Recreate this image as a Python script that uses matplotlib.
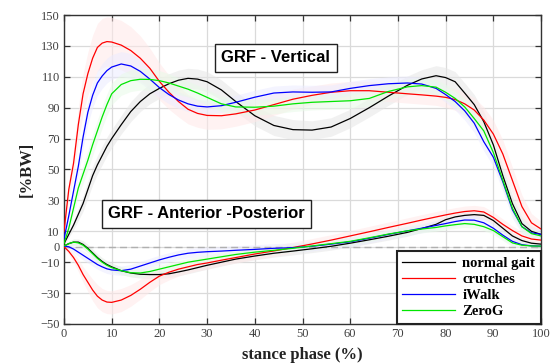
import matplotlib
matplotlib.use("Agg")
import matplotlib.pyplot as plt
import numpy as np

# ---------------- data ----------------
stance = [0, 1, 2, 3, 4, 5, 6, 7, 8, 9, 10, 12, 14, 16, 18, 20, 22, 24, 26, 28, 30,
          33, 36, 40, 44, 48, 52, 56, 60, 64, 68, 72, 75, 78, 80, 82, 84, 86, 88, 90,
          92, 94, 96, 98, 100]

labels = ["normal gait", "crutches", "iWalk", "ZeroG"]

# Vertical GRF (%BW)
vert_normal = [2, 8, 14, 21, 28, 37, 46, 53, 59, 65, 70, 79, 87.5, 94, 99, 102.5, 105.5, 107.8, 109, 108.5, 106.8,
               101.5, 94, 84.8, 78.5, 75.8, 75.5, 77.5, 83, 90, 97.5, 104.5, 108.6, 110.7, 109.5, 106.8, 99.5, 92, 81, 66,
               46, 28, 15, 10, 8]
vert_crutches = [10, 37, 54, 79, 99, 112, 122, 129, 131.8, 132.8, 132.5, 130.5, 127, 122, 115.5, 107, 100, 94, 89, 86.3, 85,
                 84.8, 86, 88.5, 92, 95.5, 98, 100, 101, 101, 100, 99, 98.3, 97.5, 96.7, 95.3, 92.5, 88.5, 82, 73,
                 60, 43, 26, 15.5, 11.5]
vert_iwalk = [5, 20, 36, 52, 71, 87, 98, 106, 110.5, 114, 116.3, 118.3, 117, 113.5, 108.5, 103, 98.5, 95, 92.5, 91, 90.5,
              91.3, 93.5, 96.8, 99.5, 100.2, 100, 100.2, 102.5, 104.3, 105.5, 106, 105.3, 102.5, 98.5, 94, 88, 80, 68, 58,
              42, 24, 13, 9, 8]
vert_zerog = [2, 12, 25, 38, 47, 56, 66, 75, 84, 92, 99, 105, 107.5, 108.4, 108.3, 107.5, 106, 104, 102, 99.5, 96.7,
              92.5, 90.5, 90.3, 91, 92.5, 93.5, 94, 94.5, 96, 100.5, 103.5, 104.3, 103.3, 100, 96, 90.5, 83, 75, 61,
              43, 25, 13, 8.5, 7]

# Anterior-posterior GRF (%BW)
ap_normal = [0.5, 2, 3, 3, 1.5, -1, -4, -7, -9.5, -11.5, -13, -15.5, -17, -17.8, -18, -18, -17.5, -16.3, -15, -13.5, -12,
             -10, -8, -6, -4.2, -2.8, -1.3, 0.3, 2.3, 4.5, 6.8, 9.3, 11.8, 14.5, 17.5, 19.3, 20.3, 20.8, 20.3, 17,
             12, 7, 4, 2.3, 1.7]
ap_crutches = [0, -3, -7, -12, -18, -23, -28, -32, -34.5, -35.8, -36, -34.5, -31.5, -27.5, -23, -19, -16.5, -14.5, -13, -11.5, -10.5,
               -8.7, -7, -4.7, -2.7, -0.5, 1.8, 4.3, 7, 9.7, 12.5, 15.2, 17.3, 19.3, 20.6, 21.8, 22.8, 23.3, 22.5, 19,
               14.5, 10.5, 7, 5, 4.3]
ap_iwalk = [0.5, 0, -1.5, -3.5, -5.5, -7.5, -9.5, -11.5, -13, -14.3, -15, -15.5, -14.5, -12.5, -10.5, -8.5, -6.8, -5.3, -4.2, -3.6, -3.2,
            -2.8, -2.3, -1.7, -1, -0.6, 0.3, 1.7, 3.2, 5.5, 8, 10.3, 12, 13.8, 15, 16.3, 17.3, 17.2, 15.5, 12,
            7.5, 3.5, 1.3, 0.6, 0.4]
ap_zerog = [0.5, 2, 3, 2.5, 1, -1.5, -4.5, -7.5, -10, -12, -13.5, -15.5, -16.8, -17, -16, -14.5, -13, -11.5, -10, -9, -8,
            -6.5, -5, -3.5, -2.3, -1, 0.5, 2, 3.5, 5.8, 8.2, 10.3, 11.5, 12.5, 13.5, 14.3, 15, 14.5, 13, 10.5,
            6.5, 2.5, 1, 0.5, 0.4]

# standard deviation bands (%BW)
sd_vert_normal = [1, 2, 3, 4, 5, 5.5, 6, 6, 6, 6, 6, 6, 6.5, 6.5, 6.5, 6.5, 6.5, 6.5, 6.5, 6.5, 6.5,
                  6.5, 6.5, 6.5, 6.5, 6.5, 6, 6, 6, 6, 6, 6, 6, 6.5, 6.5, 6.5, 6.5, 6.5, 6.5, 6,
                  6, 5.5, 4.5, 3.5, 3]
sd_vert_crutches = [2, 6, 9, 11, 13, 14, 15, 15.5, 16, 16, 16, 16, 15.5, 14.5, 13, 12, 11, 10, 9.5, 9, 9,
                    8.5, 8, 7.5, 7, 6.5, 6, 6, 6, 6, 6, 6, 6, 6, 6.5, 7, 7.5, 8, 8.5, 9,
                    9, 8.5, 7.5, 6, 5]
sd_vert_iwalk = [1, 3, 5, 6, 7, 7.5, 8, 8, 8, 8, 8, 8, 8, 7.5, 7, 6.5, 6, 5.5, 5, 4.5, 4.5,
                 4.5, 4.5, 4.5, 4.5, 4.5, 4.5, 4.5, 4.5, 4.5, 4.5, 4.5, 4.5, 4.5, 5, 5.5, 6, 6, 6, 6,
                 6, 5.5, 4.5, 3.5, 3]
sd_vert_zerog = [1, 2, 4, 5, 6, 6.5, 7, 7, 7, 7, 7, 7, 7, 7, 7, 6.5, 6, 5.5, 5, 5, 5,
                 5, 5, 5, 5, 5, 5, 5, 5, 5, 5, 5, 5, 5, 5, 5.5, 5.5, 5.5, 5.5, 5.5,
                 5.5, 5, 4, 3, 2.5]
sd_ap_normal = [1, 1.5, 2, 2, 2.5, 2.5, 2.5, 2.5, 2.5, 2.5, 2.5, 2.5, 2.5, 2.5, 2.5, 2.5, 2.5, 2.5, 2.5, 2.5, 2.5,
                2.5, 2.5, 2.5, 2.5, 2.5, 2.5, 2.5, 2.5, 2.5, 2.5, 2.5, 2.5, 2.5, 2.5, 2.5, 2.5, 2.5, 2.5, 2.5,
                2.5, 2.5, 2, 1.5, 1.5]
sd_ap_crutches = [1, 2, 3, 4, 5, 6, 7, 7.5, 7.5, 7.5, 7.5, 7.5, 7, 6.5, 6, 5.5, 5, 4.5, 4, 4, 4,
                  3.5, 3.5, 3.5, 3.5, 3.5, 3.5, 3.5, 3.5, 3.5, 3.5, 3.5, 3.5, 3.5, 3.5, 3.5, 3.5, 3.5, 3.5, 3.5,
                  3.5, 3, 3, 2.5, 2]
sd_ap_iwalk = [1, 1.5, 2, 2.5, 3, 3, 3, 3, 3, 3, 3, 3, 3, 3, 3, 3, 3, 3, 3, 3, 3,
               3, 3, 3, 3, 3, 3, 3, 3, 3, 3, 3, 3, 3, 3, 3, 3, 3, 3, 3,
               3, 2.5, 2, 1.5, 1.5]
sd_ap_zerog = [1, 1.5, 2, 2, 2.5, 2.5, 2.5, 2.5, 2.5, 2.5, 2.5, 2.5, 2.5, 2.5, 2.5, 2.5, 2.5, 2.5, 2.5, 2.5, 2.5,
               2.5, 2.5, 2.5, 2.5, 2.5, 2.5, 2.5, 2.5, 2.5, 2.5, 2.5, 2.5, 2.5, 2.5, 2.5, 2.5, 2.5, 2.5, 2.5,
               2.5, 2.5, 2, 1.5, 1.5]

yticks = [-50, -30, -10, 0, 10, 30, 50, 70, 90, 110, 130, 150]
xticks = [0, 10, 20, 30, 40, 50, 60, 70, 80, 90, 100]

# ---------------- plotting ----------------
colors = ["#000000", "#ff0000", "#0000ff", "#00e600"]
band_colors = ["#e6e6e6", "#ffe8e8", "#ebebff", "#e8fae8"]

vert = [vert_normal, vert_crutches, vert_iwalk, vert_zerog]
ap = [ap_normal, ap_crutches, ap_iwalk, ap_zerog]
sd_vert = [sd_vert_normal, sd_vert_crutches, sd_vert_iwalk, sd_vert_zerog]
sd_ap = [sd_ap_normal, sd_ap_crutches, sd_ap_iwalk, sd_ap_zerog]

fig = plt.figure(figsize=(5.55, 3.64), dpi=100)
ax = fig.add_axes([64 / 555, 1 - 324 / 364, (541 - 64) / 555, (324 - 15) / 364])

x = np.array(stance)
for i in range(4):
    m = np.array(vert[i]); s = np.array(sd_vert[i])
    ax.fill_between(x, m - s, m + s, color=band_colors[i], alpha=0.55, lw=0, zorder=1)
    m = np.array(ap[i]); s = np.array(sd_ap[i])
    ax.fill_between(x, m - s, m + s, color=band_colors[i], alpha=0.55, lw=0, zorder=1)

ax.axhline(0, color="#b0b0b0", ls=(0, (5, 3)), lw=1.0, zorder=2)

handles = []
for i in range(4):
    h, = ax.plot(x, vert[i], color=colors[i], lw=0.9, zorder=3, label=labels[i])
    ax.plot(x, ap[i], color=colors[i], lw=0.9, zorder=3)
    handles.append(h)

ax.set_xlim(0, 100)
ax.set_ylim(-50, 150)
ax.set_xticks(xticks)
ax.set_yticks(yticks)
ax.grid(True, color="#dadada", lw=0.9, zorder=0)
ax.set_axisbelow(True)

for sp in ax.spines.values():
    sp.set_color("#333333")
    sp.set_linewidth(1.0)

ax.tick_params(direction="in", length=4, width=0.9, top=True, right=True,
               colors="#333333", labelsize=9, labelcolor="#404040", pad=3)
for lab in ax.get_xticklabels() + ax.get_yticklabels():
    lab.set_fontfamily("Liberation Serif")

ax.set_xlabel("stance phase (%)", fontfamily="Liberation Serif", fontweight="bold",
              fontsize=12, color="#222222", labelpad=5)
ax.set_ylabel("[%BW]", fontfamily="Liberation Serif", fontweight="bold",
              fontsize=12, color="#222222", labelpad=4)

box = dict(boxstyle="square,pad=0.38", facecolor="white", edgecolor="#222222", lw=1.0)
ax.text(44.4, 122.3, "GRF - Vertical", ha="center", va="center",
        fontfamily="Liberation Sans", fontweight="bold", fontsize=12, bbox=box, zorder=5)
ax.text(29.9, 21.3, "GRF - Anterior -Posterior", ha="center", va="center",
        fontfamily="Liberation Sans", fontweight="bold", fontsize=12, bbox=box, zorder=5)

leg = ax.legend(handles=handles, loc="lower right", bbox_to_anchor=(1.0, 0.0),
                borderaxespad=0.0, fancybox=False, framealpha=1, edgecolor="#222222",
                prop={"family": "Liberation Serif", "weight": "bold", "size": 10.5},
                handlelength=3.6, handletextpad=0.5, labelspacing=0.2, borderpad=0.4)
leg.get_frame().set_linewidth(1.5)
leg.set_zorder(6)

fig.savefig("out.png", dpi=100)
